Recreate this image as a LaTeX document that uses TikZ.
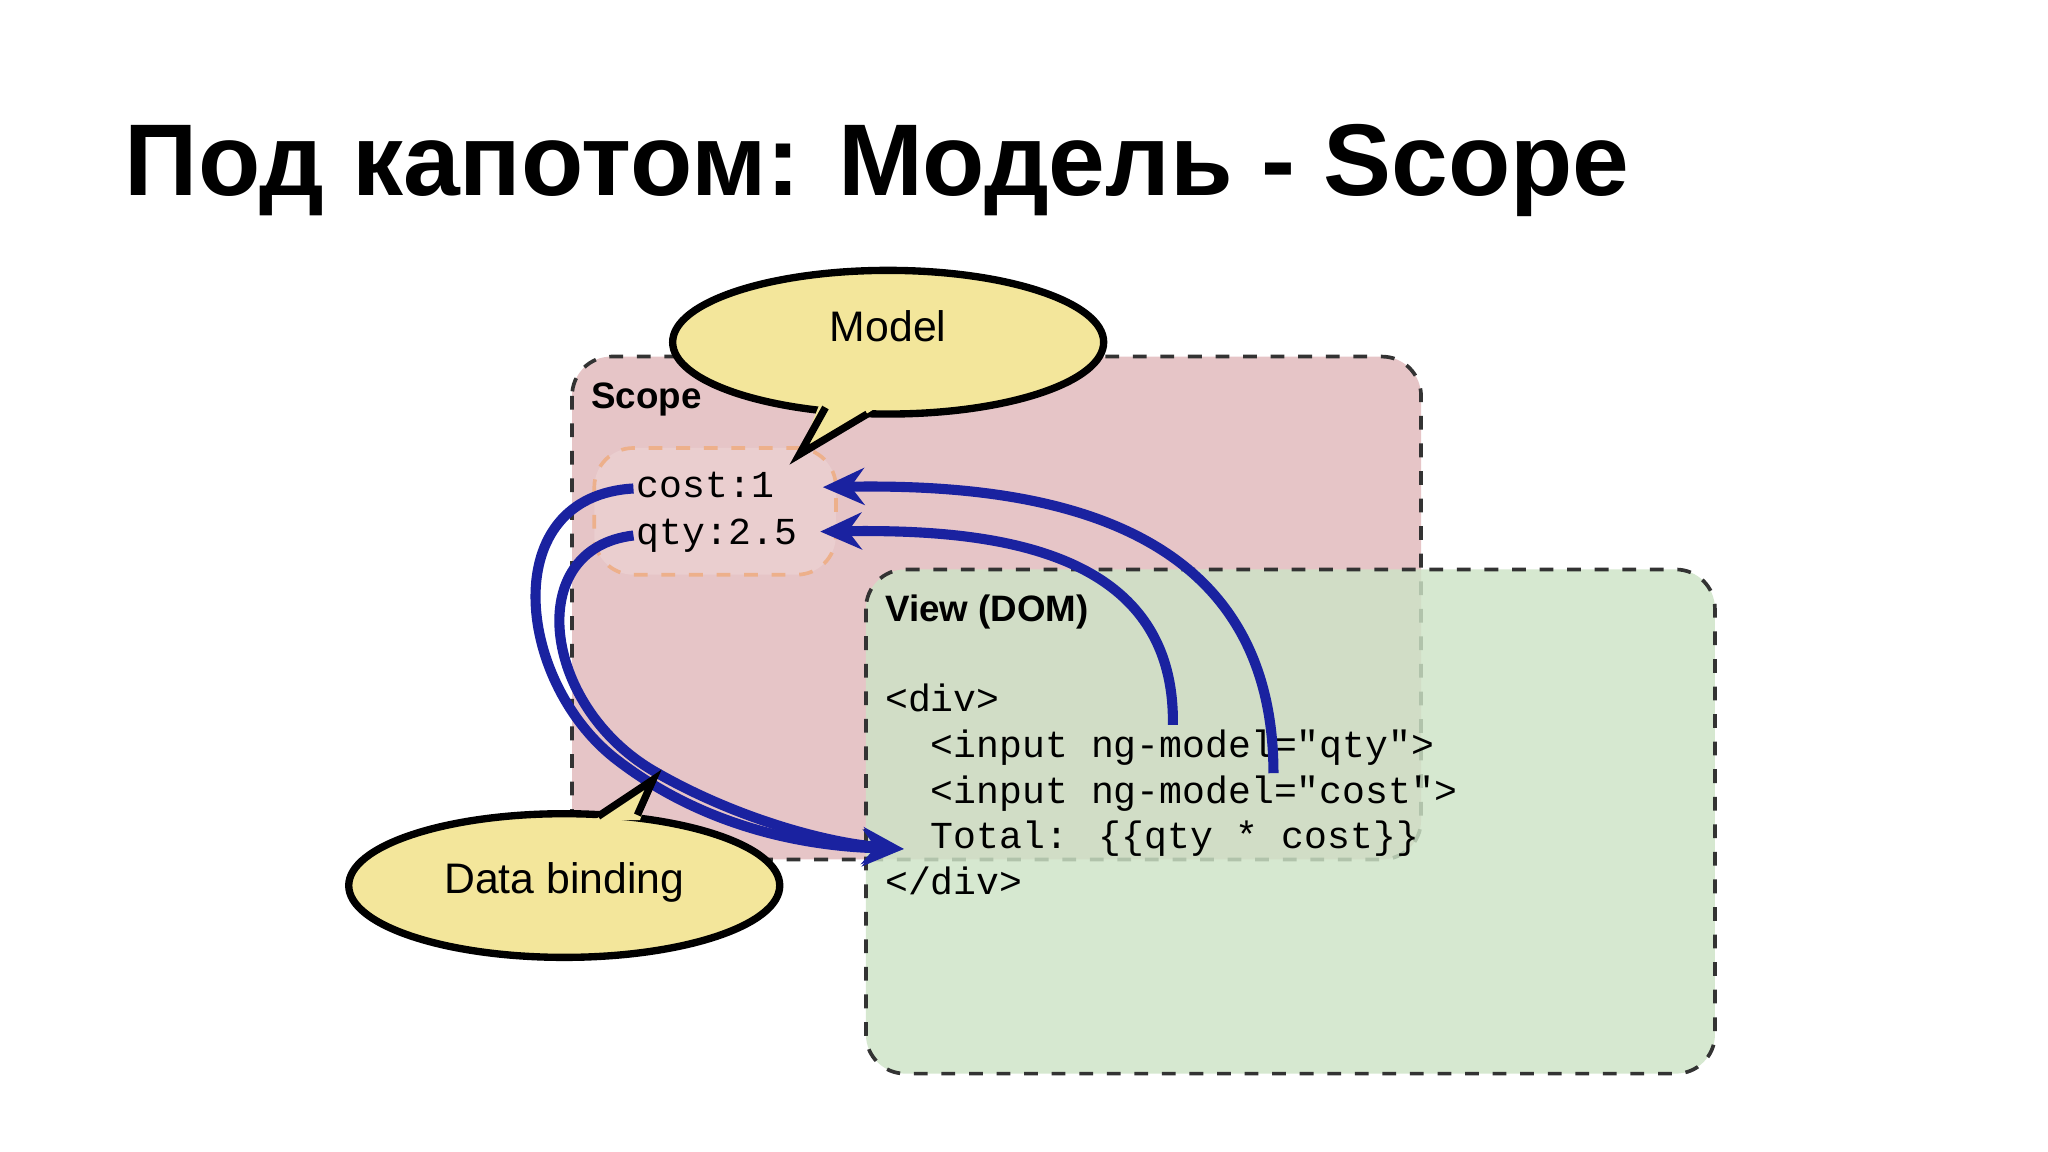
\documentclass[tikz,border=0pt]{standalone}
\usepackage{fontspec}
\setmainfont{Liberation Sans}
\newfontfamily\codefont{Liberation Mono}
\usetikzlibrary{arrows.meta}
\definecolor{pinkbox}{HTML}{E6C5C7}
\definecolor{greenbox}{HTML}{CDE3C6}
\definecolor{bubble}{HTML}{F3E69B}
\definecolor{arrowblue}{HTML}{1A22A0}
\begin{document}
\begin{tikzpicture}[x=0.01cm,y=-0.01cm,
  region/.style={draw=black!80, dashed, line width=0.8pt, rounded corners=0.3cm},
  code/.style={anchor=base west, inner sep=0pt, font=\codefont\fontsize{8.3}{10}\selectfont},
  lbl/.style={anchor=base west, inner sep=0pt, font=\bfseries\fontsize{8}{10}\selectfont},
  bind/.style={draw=arrowblue, line width=2.2pt, -{Stealth[length=9pt,width=8pt]}},
  bub/.style={draw=black, line width=1.6pt, fill=bubble}]
\useasboundingbox (0,0) rectangle (1568,882);
\fill[white] (0,0) rectangle (1568,882);
\node[anchor=base west, inner sep=0pt, font=\bfseries\fontsize{22.2}{26}\selectfont] (title) at (95,150) {Под капотом: Модель - Scope};
% scope
\draw[region, fill=pinkbox] (438,273) rectangle (1088,658);
\node[lbl] (scopelbl) at (452,313) {Scope};
\draw[dashed, draw=orange!30!pinkbox, fill=pinkbox!85!white, line width=0.8pt, rounded corners=0.3cm] (455,343) rectangle (640,440);
\node[code] (cost) at (487,381) {cost:1};
\node[code] (qty) at (487,417) {qty:2.5};
% view
\draw[region, fill=greenbox, fill opacity=0.82] (663,436) rectangle (1313,822);
\node[lbl] (viewlbl) at (677,476) {View (DOM)};
\node[code] (l1) at (677,545) {<div>};
\node[code] (l2) at (677,580) {\ \ <input ng-model="qty">};
\node[code] (l3) at (677,615) {\ \ <input ng-model="cost">};
\node[code] (l4) at (677,650) {\ \ Total: \{\{qty * cost\}\}};
\node[code] (l5) at (677,685) {</div>};
% coordinates
\coordinate (qsrc) at (898,555);
\coordinate (csrc) at (975,592);
\coordinate (qdst) at (628,407);
\coordinate (cdst) at (630,373);
\coordinate (cl) at (485,374);
\coordinate (ql) at (485,410);
\coordinate (tot) at (692,650);
% arrows
\draw[bind] (qsrc) .. controls (900,420) and (760,405) .. (qdst);
\draw[bind] (csrc) .. controls (975,400) and (800,370) .. (cdst);
\draw[bind] (cl) .. controls (380,380) and (395,520) .. (470,580) .. controls (540,635) and (620,648) .. (tot);
\draw[bind] (ql) .. controls (400,420) and (415,540) .. (500,590) .. controls (560,625) and (630,645) .. (tot);
% model bubble
\draw[bub] (680,262) ellipse [x radius=165, y radius=55];
\fill[bubble] (628,308) -- (612,348) -- (668,314) -- cycle;
\draw[line width=1.6pt] (632,312) -- (612,348) -- (664,317);
\node[font=\fontsize{9.3}{12}\selectfont] (model) at (680,250) {Model};
% data binding bubble
\draw[bub] (432,678) ellipse [x radius=165, y radius=55];
\fill[bubble] (455,628) -- (500,597) -- (490,628) -- cycle;
\draw[line width=1.6pt] (458,625) -- (500,597) -- (488,624);
\node[font=\fontsize{9.3}{12}\selectfont] (db) at (432,676) {Data binding};
\end{tikzpicture}
\end{document}
